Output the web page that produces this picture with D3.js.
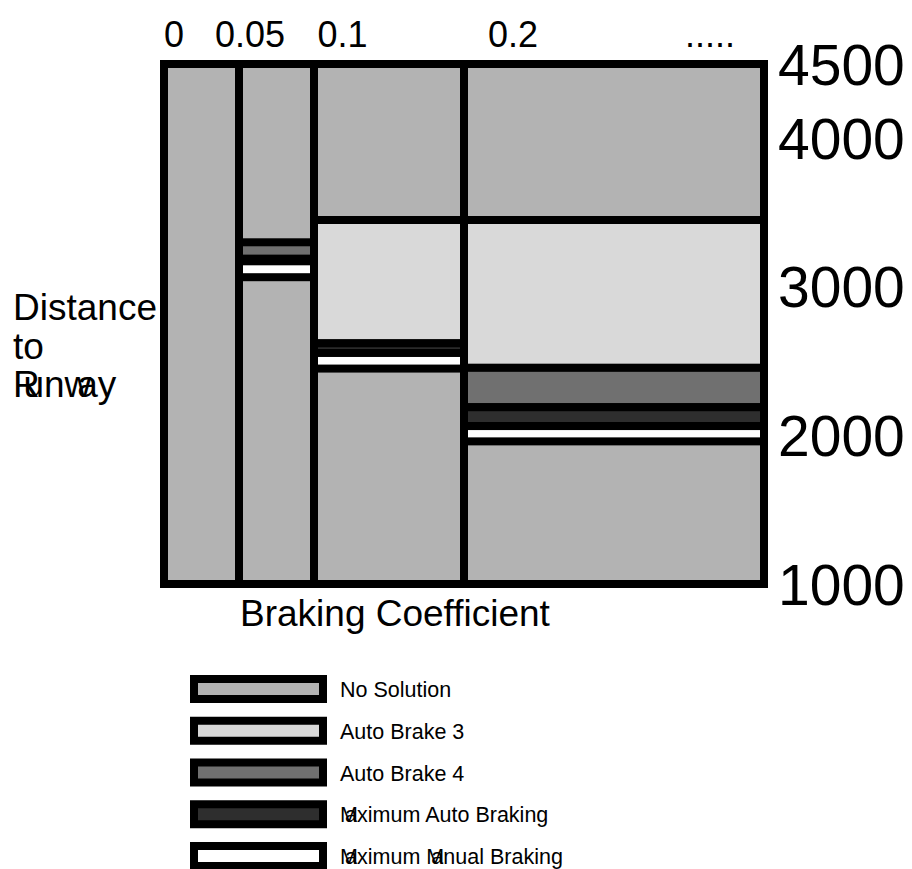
<!DOCTYPE html>
<html><head><meta charset="utf-8">
<script src="https://cdn.jsdelivr.net/npm/d3@7"></script>
<style>
body{margin:0;background:#fff;}
text{font-family:"Liberation Sans",Arial,Helvetica,sans-serif;fill:#000;}
</style>
</head><body>
<svg id="chart" width="912" height="869"></svg>
<script>
// ---- data ----
const categories = ["No Solution","Auto Brake 3","Auto Brake 4","Maximum Auto Braking","Maximum Manual Braking"];
const categoryColors = ["#b3b3b3","#d9d9d9","#707070","#2e2e2e","#ffffff"];
const columnStart = [0, 0.05, 0.1, 0.2];
const columnEnd = [0.05, 0.1, 0.2, 0.4];
const topTickLabels = ["0","0.05","0.1","0.2","....."];
const topTickAt = [0.0067, 0.0573, 0.119, 0.2327, 0.364];
const distanceTicks = [4500, 4000, 3000, 2000, 1000];
const yTitleLines = ["Distance", "to", "Runway"];
// bands inside columns: column index, category, upper distance, lower distance
const bandColumn = [1, 1, 2, 2, 2, 3, 3, 3, 3];
const bandCategory = ["Auto Brake 4","Maximum Manual Braking",
  "Auto Brake 3","Maximum Auto Braking","Maximum Manual Braking",
  "Auto Brake 3","Auto Brake 4","Maximum Auto Braking","Maximum Manual Braking"];
const bandHigh = [3300, 3172, 3450, 2620, 2555, 3450, 2455, 2190, 2063];
const bandLow  = [3190, 3065, 2620, 2555, 2450, 2455, 2190, 2063, 1960];

// ---- scales ----
const svg = d3.select("#chart");
const x = d3.scaleLinear().domain([0, 0.4]).range([164, 764]);
const y = d3.scaleLinear().domain([1000, 4500]).range([584, 64]);
const color = d3.scaleOrdinal().domain(categories).range(categoryColors);
const SW = 8;

// columns (No Solution background)
svg.append("g").selectAll("rect").data(columnStart).join("rect")
  .attr("x", (d) => x(d))
  .attr("y", y(4500))
  .attr("width", (d, i) => x(columnEnd[i]) - x(d))
  .attr("height", y(1000) - y(4500))
  .attr("fill", color("No Solution"))
  .attr("stroke", "#000").attr("stroke-width", SW);

// bands
svg.append("g").selectAll("rect").data(bandColumn).join("rect")
  .attr("x", (c) => x(columnStart[c]))
  .attr("y", (c, i) => y(bandHigh[i]))
  .attr("width", (c) => x(columnEnd[c]) - x(columnStart[c]))
  .attr("height", (c, i) => y(bandLow[i]) - y(bandHigh[i]))
  .attr("fill", (c, i) => color(bandCategory[i]))
  .attr("stroke", "#000").attr("stroke-width", SW);

// top axis labels
svg.append("g").selectAll("text").data(topTickLabels).join("text")
  .attr("x", (d, i) => x(topTickAt[i]))
  .attr("y", 47)
  .attr("text-anchor", "middle")
  .attr("font-size", 36)
  .text((d) => d);

// right axis labels
svg.append("g").selectAll("text").data(distanceTicks).join("text")
  .attr("x", 778)
  .attr("y", (d) => y(d))
  .attr("dy", "0.36em")
  .attr("font-size", 57)
  .text((d) => d);

// x title
svg.append("text").attr("x", 240).attr("y", 626).attr("font-size", 37)
  .text("Braking Coefficient");

// per-character shifts reproducing the overlapping glyphs of the original
function glyphShifts(str, fs, shifts) {
  return Array.from(str).map((ch, i) => (shifts[i] || 0) * fs).join(" ");
}

// y title: three lines
const ytFs = 37;
svg.append("g").selectAll("text").data(yTitleLines).join("text")
  .attr("x", 13)
  .attr("y", (d, i) => 320 + i * 38.5)
  .attr("font-size", ytFs)
  .attr("dx", (d) => d === "Runway" ? glyphShifts(d, ytFs, {1: -0.44, 4: -0.38}) : null)
  .text((d) => d);

// legend
const ly = d3.scalePoint().domain(categories).range([689, 856]);
const lg = svg.append("g");
lg.selectAll("rect").data(categories).join("rect")
  .attr("x", 194).attr("width", 129)
  .attr("y", (d) => ly(d) - 10).attr("height", 20)
  .attr("fill", (d) => color(d))
  .attr("stroke", "#000").attr("stroke-width", SW);

const lgFs = 21.5;
lg.selectAll("text").data(categories).join("text")
  .attr("x", 340)
  .attr("y", (d) => ly(d) + 8)
  .attr("font-size", lgFs)
  .attr("dx", (d) => {
    if (!d.startsWith("Maximum")) return null;
    const s = {1: -0.6};
    if (d.includes("Manual")) s[9] = -0.6;
    return glyphShifts(d, lgFs, s);
  })
  .text((d) => d);
</script>
</body></html>
